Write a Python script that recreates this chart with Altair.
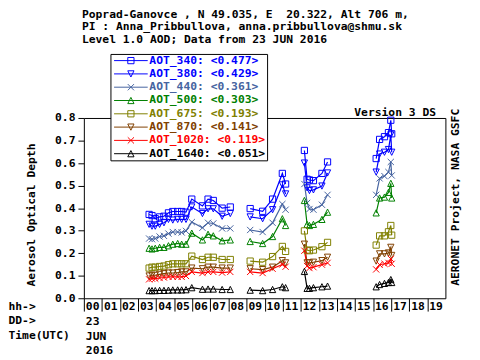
import altair as alt
import pandas as pd

FONT = "DejaVu Sans Mono"

# ---------------- data ----------------
series = ["AOT_340", "AOT_380", "AOT_440", "AOT_500", "AOT_675", "AOT_870", "AOT_1020", "AOT_1640"]
means = ["0.477", "0.429", "0.361", "0.303", "0.193", "0.141", "0.119", "0.051"]
hours = list(range(20))
date_lines = ["23", "JUN", "2016"]
y_ticks = [0.0, 0.1, 0.2, 0.3, 0.4, 0.5, 0.6, 0.7, 0.8]

times = [3.61, 3.77, 3.95, 4.19, 4.43, 4.68, 4.92, 5.19, 5.41, 5.65, 5.97, 6.56, 6.87, 7.16, 7.65, 8.10,
         9.20, 9.89, 10.44, 10.98, 11.16,
         12.20, 12.35, 12.48, 12.70, 13.17, 13.48,
         16.17, 16.36, 16.63, 16.85, 16.98, 17.03]
segments = [1] * 16 + [2] * 5 + [3] * 6 + [4] * 6

aot_340 = [0.372, 0.367, 0.353, 0.361, 0.364, 0.379, 0.385, 0.385, 0.385, 0.382, 0.440, 0.410, 0.440, 0.434, 0.400, 0.405,
           0.398, 0.386, 0.440, 0.554, 0.507,
           0.656, 0.528, 0.525, 0.522, 0.554, 0.605,
           0.620, 0.705, 0.717, 0.735, 0.790, 0.730]
aot_380 = [0.328, 0.320, 0.320, 0.328, 0.335, 0.350, 0.347, 0.350, 0.350, 0.350, 0.405, 0.376, 0.397, 0.397, 0.364, 0.376,
           0.361, 0.353, 0.393, 0.503, 0.463,
           0.600, 0.490, 0.478, 0.481, 0.498, 0.556,
           0.560, 0.640, 0.648, 0.660, 0.725, 0.648]
aot_440 = [0.265, 0.262, 0.265, 0.274, 0.277, 0.287, 0.294, 0.294, 0.292, 0.299, 0.338, 0.313, 0.335, 0.332, 0.310, 0.310,
           0.303, 0.294, 0.335, 0.418, 0.393,
           0.507, 0.423, 0.396, 0.393, 0.415, 0.459,
           0.459, 0.532, 0.542, 0.560, 0.605, 0.545]
aot_500 = [0.222, 0.219, 0.222, 0.226, 0.226, 0.233, 0.240, 0.243, 0.240, 0.240, 0.289, 0.259, 0.284, 0.277, 0.255, 0.259,
           0.252, 0.243, 0.274, 0.353, 0.323,
           0.434, 0.328, 0.323, 0.328, 0.350, 0.382,
           0.379, 0.445, 0.449, 0.470, 0.510, 0.445]
aot_675 = [0.134, 0.138, 0.138, 0.141, 0.143, 0.149, 0.153, 0.153, 0.153, 0.153, 0.187, 0.172, 0.182, 0.182, 0.172, 0.172,
           0.165, 0.160, 0.185, 0.230, 0.208,
           0.299, 0.214, 0.211, 0.214, 0.229, 0.248,
           0.236, 0.277, 0.277, 0.295, 0.323, 0.280]
aot_870 = [0.099, 0.102, 0.102, 0.106, 0.109, 0.112, 0.112, 0.114, 0.117, 0.117, 0.134, 0.131, 0.138, 0.138, 0.134, 0.134,
           0.131, 0.127, 0.138, 0.167, 0.157,
           0.240, 0.157, 0.157, 0.160, 0.167, 0.182,
           0.165, 0.197, 0.197, 0.201, 0.226, 0.190]
aot_1020 = [0.084, 0.087, 0.087, 0.090, 0.092, 0.095, 0.095, 0.095, 0.095, 0.099, 0.117, 0.112, 0.117, 0.117, 0.114, 0.117,
            0.117, 0.112, 0.131, 0.150, 0.140,
            0.211, 0.143, 0.134, 0.138, 0.149, 0.157,
            0.128, 0.149, 0.153, 0.157, 0.175, 0.153]
aot_1640 = [0.034, 0.034, 0.034, 0.035, 0.035, 0.036, 0.037, 0.037, 0.037, 0.038, 0.047, 0.040, 0.041, 0.041, 0.039, 0.039,
            0.036, 0.034, 0.039, 0.051, 0.047,
            0.119, 0.044, 0.044, 0.047, 0.051, 0.054,
            0.051, 0.061, 0.066, 0.070, 0.083, 0.070]

values = [aot_340, aot_380, aot_440, aot_500, aot_675, aot_870, aot_1020, aot_1640]

# ---------------- styles ----------------
colors = ["#0000ff", "#0000ff", "#4664a0", "#008000", "#808000", "#804000", "#ff0000", "#000000"]
SQUARE = "M-1,-1H1V1H-1Z"
TRI_DOWN = "M-1,-1H1L0,1Z"
TRI_UP = "M-1,1H1L0,-1Z"
XCROSS = "M-1,-1L1,1M-1,1L1,-1"
shapes = [SQUARE, TRI_DOWN, XCROSS, TRI_UP, SQUARE, TRI_DOWN, XCROSS, TRI_UP]

labels = [f"{n}: <{m}> " for n, m in zip(series, means)]

rows = []
for name, lab, vals in zip(series, labels, values):
    for t, s, v in zip(times, segments, vals):
        rows.append({"series": lab, "sym": name, "time": t, "seg": s, "aod": v})
df = pd.DataFrame(rows)

color_scale = alt.Scale(domain=labels, range=colors)
shape_scale = alt.Scale(domain=series, range=shapes)
x_scale = alt.Scale(domain=[0, 20], nice=False, zero=False)
y_scale = alt.Scale(domain=[0, 0.8], nice=False)

legend = alt.Legend(
    title=None, orient="none", legendX=27, legendY=-65, direction="vertical",
    padding=1, strokeColor="black", fillColor="white",
    labelFont=FONT, labelFontSize=11.5, labelFontWeight="bold",
    labelColor={"expr": "scale('color', datum.value)"},
    symbolType={"expr": "'M-5.4,0H5.4' + scale('shape', substring(datum.value, 0, indexof(datum.value, ':')))"},
    symbolStrokeColor={"expr": "scale('color', datum.value)"},
    symbolFillColor="transparent",
    symbolSize=40, symbolStrokeWidth=1, symbolOffset=14, labelOffset=13,
    rowPadding=0.5,
)

date_expr = "[datum.label, " + ", ".join(f"'{d}'" for d in date_lines) + "]"

base = alt.Chart(df)

lines = base.mark_line(strokeWidth=1.2).encode(
    x=alt.X("time:Q", scale=x_scale, axis=alt.Axis(
        values=hours, format="02d",
        labelExpr=f"datum.value == 0 ? {date_expr} : datum.label",
        labelAlign="left", labelBaseline="top", labelPadding=-10.5, labelOffset=1.5,
        labelFlush=False, labelOverlap=False, labelLineHeight=15,
        tickSize=13, domain=False, grid=False,
        title=["hh->", "DD->", "", "Time(UTC)"], titleX=-77, titleY=2,
        titleAlign="left", titleBaseline="top", titleLineHeight=15)),
    y=alt.Y("aod:Q", scale=y_scale, axis=alt.Axis(
        values=y_ticks, format=".1f", tickSize=6, labelPadding=3,
        domain=False, grid=False,
        title="Aerosol Optical Depth", titleAngle=270, titleX=-53, titleY=98,
        titleAlign="center", titleBaseline="middle")),
    color=alt.Color("series:N", scale=color_scale, legend=legend),
    detail="seg:N",
)

points = base.mark_point(filled=False, size=40, strokeWidth=1, opacity=1).encode(
    x=alt.X("time:Q", scale=x_scale, axis=alt.Axis(
        orient="top", labels=False, ticks=False, domain=False, grid=False,
        title="Version 3 DS", titleX=357, titleY=-3, titleAlign="right",
        titleBaseline="alphabetic")),
    y=alt.Y("aod:Q", scale=y_scale, axis=alt.Axis(
        orient="right", labels=False, ticks=False, domain=False, grid=False,
        title="AERONET Project, NASA GSFC", titleAngle=270, titleX=10, titleY=80,
        titleAlign="center", titleBaseline="middle")),
    color=alt.Color("series:N", scale=color_scale, legend=legend),
    shape=alt.Shape("sym:N", scale=shape_scale, legend=None),
)

chart = alt.layer(lines, points).resolve_axis(
    x="independent", y="independent"
).properties(
    width=367, height=183,
    padding={"left": 77, "top": 109, "right": 27, "bottom": 59},
    autosize=alt.AutoSizeParams(type="none"),
    title=alt.TitleParams(
        text=["Poprad-Ganovce , N 49.035, E \u00a020.322, Alt 706 m,",
              "PI : Anna_Pribbullova, anna.pribbullova@shmu.sk",
              "Level 1.0 AOD; Data from 23 JUN 2016"],
        anchor="start", frame="group", font=FONT, fontSize=11.5, fontWeight="bold",
        lineHeight=13, offset=8, dx=-2, color="black"),
).configure(
    background="white", font=FONT
).configure_view(
    stroke="black", strokeWidth=1
).configure_axis(
    labelFont=FONT, titleFont=FONT, labelFontSize=11.5, titleFontSize=11.5,
    labelFontWeight="bold", titleFontWeight="bold", labelColor="black",
    titleColor="black", tickColor="black", tickWidth=1,
)

chart.save("out.html", embed_options={"renderer": "svg", "actions": False})
